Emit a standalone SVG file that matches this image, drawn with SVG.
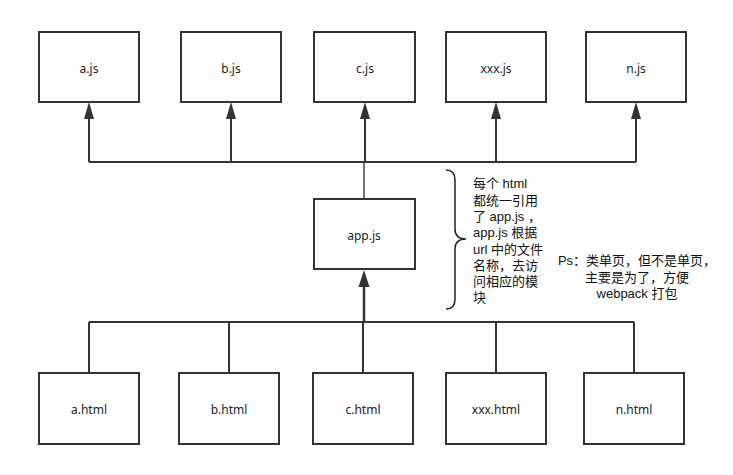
<svg xmlns="http://www.w3.org/2000/svg" width="733" height="475" viewBox="0 0 733 475">
<style>
.box{fill:#fff;stroke:#333;stroke-width:2}
.lbl{font-family:"Noto Sans","Noto Sans CJK SC",sans-serif;font-size:12px;fill:#222;text-anchor:middle;dominant-baseline:central}
.note{font-family:"Liberation Sans","Noto Sans CJK SC",sans-serif;font-size:13px;fill:#111}
.ln{fill:none;stroke:#333;stroke-width:2}
.thin{fill:none;stroke:#444;stroke-width:1.5}
.head{fill:#333}
</style>
<g id="connectors">
<path class="ln" d="M89 162H636"/>
<path class="ln" d="M89 162V118M231 162V118M365 162V118M496 162V118M636 162V118"/>
<polygon class="head" points="89,102 84,119 94,119"/>
<polygon class="head" points="231,102 226,119 236,119"/>
<polygon class="head" points="365,102 360,119 370,119"/>
<polygon class="head" points="496,102 491,119 501,119"/>
<polygon class="head" points="636,102 631,119 641,119"/>
<path class="thin" d="M364 162V199"/>
<path class="ln" d="M89 322H634"/>
<path class="ln" d="M89 322V373M229 322V373M363 322V373M496 322V373M634 322V373"/>
<path fill="none" stroke="#333" stroke-width="2.5" d="M364 322V285"/>
<polygon class="head" points="364,270 358.5,287 369.5,287"/>
</g>
<g id="a-js"><rect class="box" x="39" y="32" width="100" height="70"/><text class="lbl" x="89" y="68">a.js</text></g>
<g id="b-js"><rect class="box" x="181" y="32" width="100" height="70"/><text class="lbl" x="231" y="68">b.js</text></g>
<g id="c-js"><rect class="box" x="314" y="32" width="101" height="70"/><text class="lbl" x="365" y="68">c.js</text></g>
<g id="xxx-js"><rect class="box" x="446" y="32" width="100" height="70"/><text class="lbl" x="496" y="68">xxx.js</text></g>
<g id="n-js"><rect class="box" x="586" y="32" width="100" height="70"/><text class="lbl" x="636" y="68">n.js</text></g>
<g id="app-js"><rect class="box" x="314" y="199" width="101" height="70"/><text class="lbl" x="364" y="235">app.js</text></g>
<g id="a-html"><rect class="box" x="39" y="373" width="100" height="71"/><text class="lbl" x="89" y="409">a.html</text></g>
<g id="b-html"><rect class="box" x="179" y="373" width="100" height="71"/><text class="lbl" x="229" y="409">b.html</text></g>
<g id="c-html"><rect class="box" x="313" y="373" width="100" height="71"/><text class="lbl" x="363" y="409">c.html</text></g>
<g id="xxx-html"><rect class="box" x="446" y="373" width="100" height="71"/><text class="lbl" x="496" y="409">xxx.html</text></g>
<g id="n-html"><rect class="box" x="584" y="373" width="100" height="71"/><text class="lbl" x="634" y="409">n.html</text></g>
<g id="brace">
<path fill="none" stroke="#222" stroke-width="1.5" d="M446 170Q455 170 455 180V229Q455 239 466 239Q455 239 455 249V299Q455 309 446 309"/>
</g>
<g id="note1">
<text class="note" x="473" y="188">每个 html</text>
<text class="note" x="473" y="204.5">都统一引用</text>
<text class="note" x="473" y="221">了 app.js  ，</text>
<text class="note" x="473" y="237">app.js 根据</text>
<text class="note" x="473" y="253.5">url 中的文件</text>
<text class="note" x="473" y="270">名称，去访</text>
<text class="note" x="473" y="286">问相应的模</text>
<text class="note" x="473" y="302">块</text>
</g>
<g id="note2">
<text class="note" x="637" y="265" text-anchor="middle">Ps：类单页，但不是单页，</text>
<text class="note" x="637" y="281.5" text-anchor="middle">主要是为了，方便</text>
<text class="note" x="637" y="298" text-anchor="middle">webpack 打包</text>
</g>
</svg>
